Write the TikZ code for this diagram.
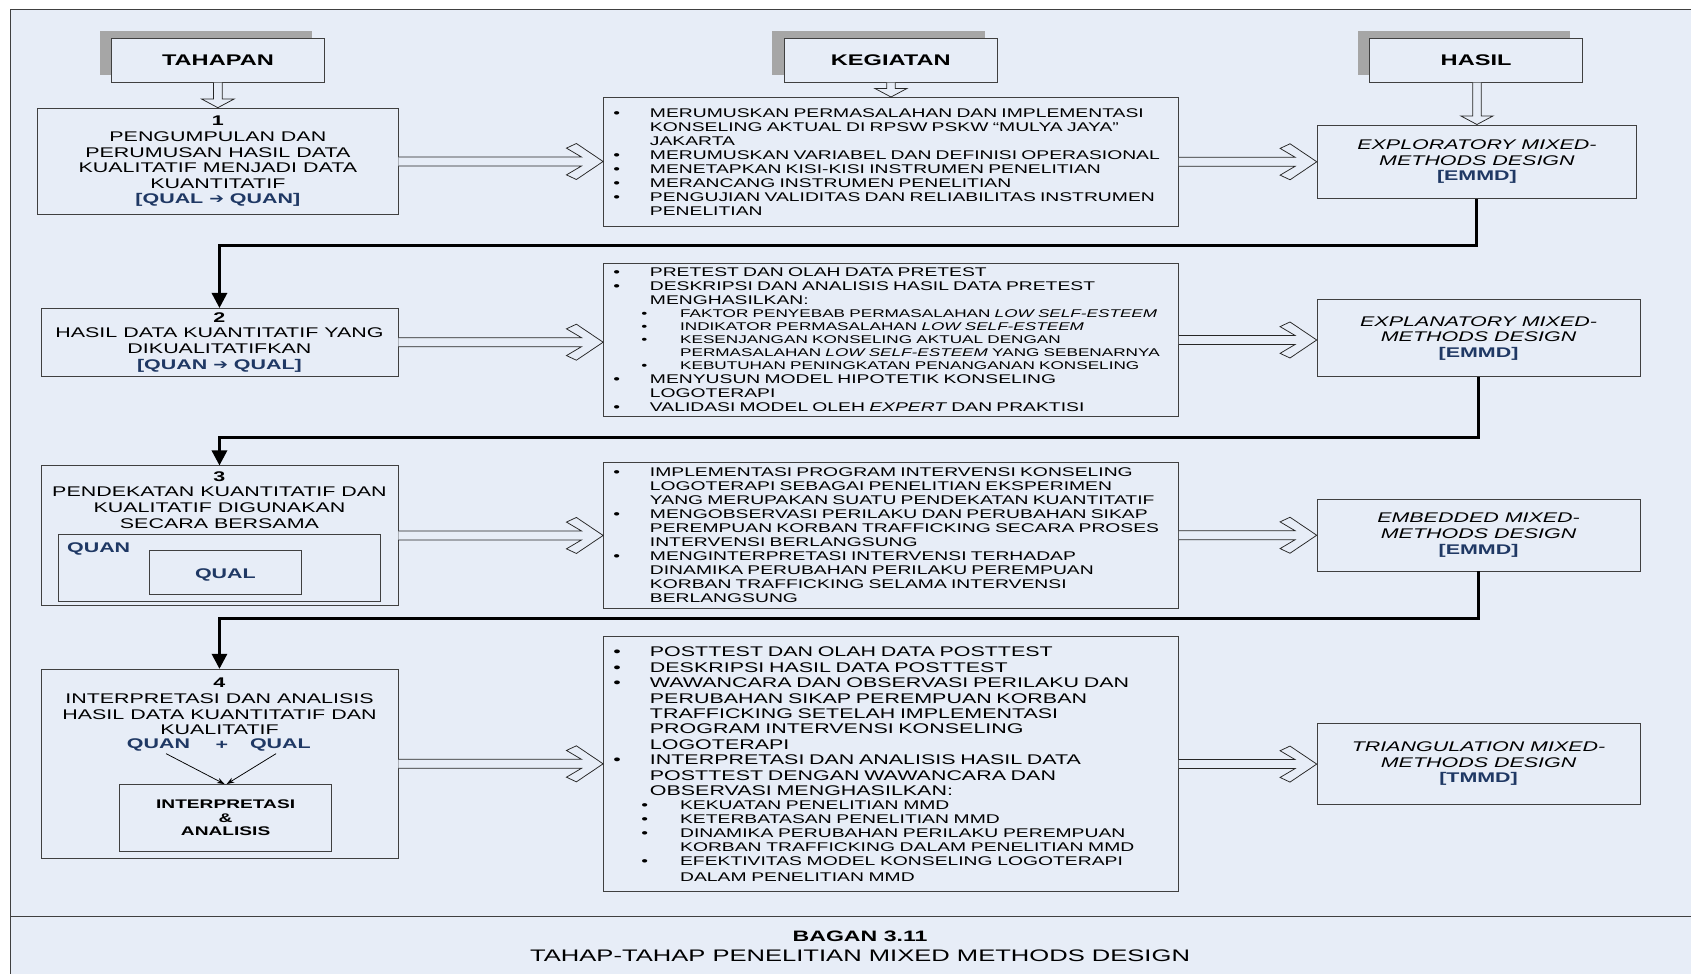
\documentclass[tikz,border=0pt]{standalone}
\usepackage{fontspec}
\usepackage{graphicx}
\setmainfont{Liberation Sans}[FakeStretch=1.53]
\newfontfamily\arw{DejaVu Sans}
\usetikzlibrary{calc,shadows,arrows.meta}
\definecolor{bgc}{HTML}{E7EDF7}
\definecolor{navy}{HTML}{1F3864}
\definecolor{shgray}{HTML}{A6A6A6}
\definecolor{bord}{HTML}{404040}
\newcommand{\kmain}[1]{\makebox[34pt][l]{•}\mbox{#1}}
\newcommand{\kcont}[1]{\hspace*{34pt}\mbox{#1}}
\newcommand{\ksub}[1]{\hspace*{26pt}\makebox[36pt][l]{•}\mbox{#1}}
\newcommand{\ksubc}[1]{\hspace*{62pt}\mbox{#1}}
\newcommand{\szA}{\fontsize{11.7}{13}\selectfont}
\newcommand{\szB}{\fontsize{10.4}{12}\selectfont}
\newcommand{\szC}{\fontsize{13}{14.3}\selectfont}
\newcommand{\rarr}{\scalebox{1.25}[1.0]{\arw ➔}}
\newcommand{\hollowright}[2]{%
  \draw[hollow] ($(#1)+(0,-4.2)$) -- ($(#2)+(-20.1,-4.2)$) -- ($(#2)+(-34,-12.4)$) -- ($(#2)+(-24.8,-16.7)$) -- (#2) -- ($(#2)+(-24.8,16.7)$) -- ($(#2)+(-34,12.4)$) -- ($(#2)+(-20.1,4.2)$) -- ($(#1)+(0,4.2)$);}
\newcommand{\hollowdown}[2]{%
  \draw[hollow] ($(#1)+(-4,0)$) -- ($(#2)+(-4,-8)$) -- ($(#2)+(-15,-8)$) -- (#2) -- ($(#2)+(15,-8)$) -- ($(#2)+(4,-8)$) -- ($(#1)+(4,0)$);}
\begin{document}
\begin{tikzpicture}[x=1pt,y=-1pt,
  titlebox/.style={draw=bord, line width=0.8pt, fill=bgc, minimum width=197pt, minimum height=40.8pt, inner sep=0pt,
    font=\fontsize{14.3}{16}\selectfont\bfseries,
    drop shadow={shadow xshift=-11.3pt, shadow yshift=6.8pt, opacity=1, fill=shgray, draw=none}},
  lbox/.style={draw=bord, line width=0.8pt, fill=bgc, inner sep=0pt, align=center, font=\fontsize{13}{14.5}\selectfont},
  ltext/.style={inner sep=0pt, align=center, font=\fontsize{13}{14.5}\selectfont},
  qlabel/.style={inner sep=0pt, font=\fontsize{13}{14.5}\selectfont\bfseries, text=navy},
  kbox/.style={draw=bord, line width=0.8pt, fill=bgc, inner xsep=9pt, inner ysep=0pt, align=left, text width=515pt, font=\szA},
  hbox/.style={draw=bord, line width=0.8pt, fill=bgc, inner sep=0pt, align=center, font=\fontsize{13}{14.4}\selectfont\itshape},
  hollow/.style={draw=black!85, line width=0.7pt, fill=bgc},
  conn/.style={line width=2.8pt, -{Triangle[width=14pt,length=14pt]}},
  thinarrow/.style={line width=0.7pt, -{Stealth[length=7pt,width=5pt]}}]
\useasboundingbox (0,0) rectangle (1568,903);
% frame
\fill[bgc] (10,8.7) rectangle (1580,910);
\draw[bord, line width=1pt] (10,910) -- (10,8.7) -- (1580,8.7);
\draw[bord, line width=1.2pt] (10,850) -- (1580,850);
% titles
\node[titlebox] (tah) at (202.1,55.9) {TAHAPAN};
\node[titlebox] (keg) at (826,55.9) {KEGIATAN};
\node[titlebox] (has) at (1368.75,55.9) {HASIL};
% left column
\node[lbox, minimum width=334pt, minimum height=99pt] (b1) at (202,149.75)
  {\textbf{1}\\PENGUMPULAN DAN\\PERUMUSAN HASIL DATA\\KUALITATIF MENJADI DATA\\KUANTITATIF\\\textbf{\color{navy}[QUAL \rarr{} QUAN]}};
\node[lbox, minimum width=331pt, minimum height=62.6pt] (b2) at (203.5,317.3)
  {\textbf{2}\\HASIL DATA KUANTITATIF YANG\\DIKUALITATIFKAN\\\textbf{\color{navy}[QUAN \rarr{} QUAL]}};
\node[lbox, minimum width=331pt, minimum height=129pt] (b3) at (203.5,496.5) {};
\node[ltext, anchor=north] (t3) at ($(b3.north)+(0,5.3)$)
  {\textbf{3}\\PENDEKATAN KUANTITATIF DAN\\KUALITATIF DIGUNAKAN\\SECARA BERSAMA};
\node[lbox, minimum width=298pt, minimum height=62pt] (qb) at (203.35,527) {};
\node[lbox, minimum width=141.2pt, minimum height=41pt] (qlb) at (209,530.5) {};
\node[qlabel] (qlt) at (209,533.5) {QUAL};
\node[qlabel, anchor=west] (qn) at (62,509) {QUAN};
\node[lbox, minimum width=331pt, minimum height=175.3pt] (b4) at (203.5,708.25) {};
\node[ltext, anchor=north] (t4) at ($(b4.north)+(0,8.4)$)
  {\textbf{4}\\INTERPRETASI DAN ANALISIS\\HASIL DATA KUANTITATIF DAN\\KUALITATIF};
\node[qlabel] (quan4) at (147,690.8) {QUAN};
\node[qlabel] (plus4) at (205.8,690.8) {+};
\node[qlabel] (qual4) at (260,690.8) {QUAL};
\node[lbox, minimum width=196.3pt, minimum height=61.8pt, font=\fontsize{11.6}{12.6}\selectfont\bfseries] (ib) at (209.2,758.3) {INTERPRETASI\\\&\\ANALISIS};
\draw[thinarrow] ($(quan4.south)+(7,2)$) -- ($(ib.north)+(-1,0)$);
\draw[thinarrow] ($(qual4.south)+(-4,2)$) -- ($(ib.north)+(1,0)$);
% middle column
\node[kbox, minimum height=119.3pt] (k1) at (826.15,150) {%
\kmain{MERUMUSKAN PERMASALAHAN DAN IMPLEMENTASI}\\
\kcont{KONSELING AKTUAL DI RPSW PSKW “MULYA JAYA”}\\
\kcont{JAKARTA}\\
\kmain{MERUMUSKAN VARIABEL DAN DEFINISI OPERASIONAL}\\
\kmain{MENETAPKAN KISI-KISI INSTRUMEN PENELITIAN}\\
\kmain{MERANCANG INSTRUMEN PENELITIAN}\\
\kmain{PENGUJIAN VALIDITAS DAN RELIABILITAS INSTRUMEN}\\
\kcont{PENELITIAN}};
\node[kbox, minimum height=142.1pt] (k2) at (826.15,315.25) {%
\kmain{PRETEST DAN OLAH DATA PRETEST}\\
\kmain{DESKRIPSI DAN ANALISIS HASIL DATA PRETEST}\\
\kcont{MENGHASILKAN:}\\
\szB\ksub{FAKTOR PENYEBAB PERMASALAHAN \textit{LOW SELF-ESTEEM}}\\
\ksub{INDIKATOR PERMASALAHAN \textit{LOW SELF-ESTEEM}}\\
\ksub{KESENJANGAN KONSELING AKTUAL DENGAN}\\
\ksubc{PERMASALAHAN \textit{LOW SELF-ESTEEM} YANG SEBENARNYA}\\
\ksub{KEBUTUHAN PENINGKATAN PENANGANAN KONSELING}\\
\szA\kmain{MENYUSUN MODEL HIPOTETIK KONSELING}\\
\kcont{LOGOTERAPI}\\
\kmain{VALIDASI MODEL OLEH \textit{EXPERT} DAN PRAKTISI}};
\node[kbox, minimum height=135.3pt] (k3) at (826.15,496.3) {%
\kmain{IMPLEMENTASI PROGRAM INTERVENSI KONSELING}\\
\kcont{LOGOTERAPI SEBAGAI PENELITIAN EKSPERIMEN}\\
\kcont{YANG MERUPAKAN SUATU PENDEKATAN KUANTITATIF}\\
\kmain{MENGOBSERVASI PERILAKU DAN PERUBAHAN SIKAP}\\
\kcont{PEREMPUAN KORBAN TRAFFICKING SECARA PROSES}\\
\kcont{INTERVENSI BERLANGSUNG}\\
\kmain{MENGINTERPRETASI INTERVENSI TERHADAP}\\
\kcont{DINAMIKA PERUBAHAN PERILAKU PEREMPUAN}\\
\kcont{KORBAN TRAFFICKING SELAMA INTERVENSI}\\
\kcont{BERLANGSUNG}};
\node[kbox, minimum height=236.5pt, font=\szC] (k4) at (826.15,708.5) {%
\kmain{POSTTEST DAN OLAH DATA POSTTEST}\\
\kmain{DESKRIPSI HASIL DATA POSTTEST}\\
\kmain{WAWANCARA DAN OBSERVASI PERILAKU DAN}\\
\kcont{PERUBAHAN SIKAP PEREMPUAN KORBAN}\\
\kcont{TRAFFICKING SETELAH IMPLEMENTASI}\\
\kcont{PROGRAM INTERVENSI KONSELING}\\
\kcont{LOGOTERAPI}\\
\kmain{INTERPRETASI DAN ANALISIS HASIL DATA}\\
\kcont{POSTTEST DENGAN WAWANCARA DAN}\\
\kcont{OBSERVASI MENGHASILKAN:}\\
\szA\ksub{KEKUATAN PENELITIAN MMD}\\
\ksub{KETERBATASAN PENELITIAN MMD}\\
\ksub{DINAMIKA PERUBAHAN PERILAKU PEREMPUAN}\\
\ksubc{KORBAN TRAFFICKING DALAM PENELITIAN MMD}\\
\ksub{EFEKTIVITAS MODEL KONSELING LOGOTERAPI}\\
\ksubc{DALAM PENELITIAN MMD}};
% right column
\node[hbox, minimum width=296.2pt, minimum height=68.3pt] (h1) at (1369.5,150)
  {EXPLORATORY MIXED-\\METHODS DESIGN\\\textup{\textbf{\color{navy}[EMMD]}}};
\node[hbox, minimum width=299.3pt, minimum height=72pt] (h2) at (1371,313.5)
  {EXPLANATORY MIXED-\\METHODS DESIGN\\\textup{\textbf{\color{navy}[EMMD]}}};
\node[hbox, minimum width=299.3pt, minimum height=66.4pt] (h3) at (1371,496.2)
  {EMBEDDED MIXED-\\METHODS DESIGN\\\textup{\textbf{\color{navy}[EMMD]}}};
\node[hbox, minimum width=299.3pt, minimum height=74.8pt] (h4) at (1371,708.4)
  {TRIANGULATION MIXED-\\METHODS DESIGN\\\textup{\textbf{\color{navy}[TMMD]}}};
% vertical hollow arrows
\coordinate (v1) at (b1.north |- tah.south);
\coordinate (v2) at (k1.north |- keg.south);
\coordinate (v3) at (h1.north |- has.south);
\hollowdown{v1}{b1.north}
\hollowdown{v2}{k1.north}
\hollowdown{v3}{h1.north}
% horizontal hollow arrows
\coordinate (a1) at (k1.west |- b1.east);  \hollowright{b1.east}{a1}
\coordinate (a2) at (h1.west |- k1.east);  \hollowright{k1.east}{a2}
\coordinate (a3) at (k2.west |- b2.east);  \hollowright{b2.east}{a3}
\coordinate (a4) at (h2.west |- k2.east);  \hollowright{k2.east}{a4}
\coordinate (a5) at (k3.west |- b3.east);  \hollowright{b3.east}{a5}
\coordinate (a6) at (h3.west |- k3.east);  \hollowright{k3.east}{a6}
\coordinate (a7) at (k4.west |- b4.east);  \hollowright{b4.east}{a7}
\coordinate (a8) at (h4.west |- k4.east);  \hollowright{k4.east}{a8}
% thick connectors
\draw[conn] (h1.south) -- ++(0,43) -| (b2.north);
\draw[conn] (h2.south) -- ++(0,56) -| (b3.north);
\draw[conn] (h3.south) -- ++(0,44) -| (b4.north);
% caption
\node[font=\fontsize{14}{16}\selectfont\bfseries, inner sep=0pt] (cap1) at (797.5,868) {BAGAN 3.11};
\node[font=\fontsize{15.5}{17}\selectfont, inner sep=0pt] (cap2) at (797.5,886) {TAHAP-TAHAP PENELITIAN MIXED METHODS DESIGN};
\end{tikzpicture}
\end{document}
